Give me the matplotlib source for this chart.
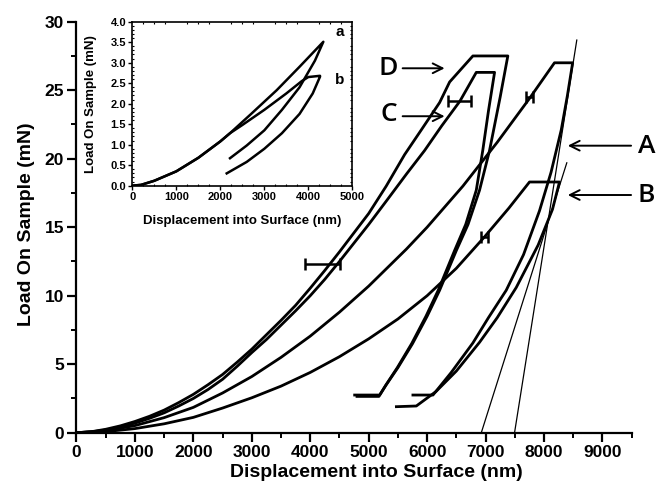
import matplotlib
matplotlib.use('Agg')
import matplotlib.pyplot as plt
from matplotlib.ticker import MultipleLocator

plt.rcParams['font.family'] = ['Liberation Sans', 'DejaVu Sans']
plt.rcParams['font.weight'] = 'bold'

# --- main chart data (nm, mN) ---
# curve A: loading, hold, unloading, drift hold
A_load_x = [0, 500, 1000, 1500, 2000, 2500, 3000, 3500, 4000, 4500, 5000, 5645, 6000, 6612, 7200, 7752, 8179]
A_load_y = [0, 0.14, 0.52, 1.1, 1.85, 2.9, 4.1, 5.5, 7.05, 8.8, 10.7, 13.4, 15.0, 18.0, 21.2, 24.4, 27.0]
A_unload_x = [8490, 8400, 8295, 8120, 7923, 7650, 7354, 7050, 6783, 6413, 6100, 5757]
A_unload_y = [27.0, 24.6, 22.1, 19.0, 16.2, 13.0, 10.4, 8.4, 6.55, 4.4, 2.75, 2.75]

# curve B
B_load_x = [0, 500, 1000, 1500, 2000, 2500, 3000, 3500, 4000, 4500, 5000, 5500, 6000, 6500, 6983, 7400, 7752]
B_load_y = [0, 0.08, 0.3, 0.65, 1.12, 1.8, 2.55, 3.4, 4.4, 5.55, 6.85, 8.3, 10.0, 12.0, 14.3, 16.4, 18.3]
B_unload_x = [8265, 8145, 7900, 7525, 7200, 6897, 6500, 6150, 5815, 5474]
B_unload_y = [18.3, 16.3, 13.7, 10.6, 8.4, 6.6, 4.5, 3.0, 1.95, 1.9]

# curve C
C_load_x = [0, 250, 500, 750, 1000, 1250, 1500, 1750, 2000, 2250, 2500, 2750, 3000, 3250, 3500, 3750,
            4000, 4250, 4500, 4750, 5000, 5300, 5650, 5957, 6250, 6561, 6841]
C_load_y = [0, 0.06, 0.2, 0.42, 0.7, 1.05, 1.45, 1.95, 2.5, 3.15, 3.9, 4.85, 5.85, 6.8, 7.85, 8.9,
            10.0, 11.2, 12.5, 13.85, 15.2, 16.9, 18.9, 20.6, 22.4, 24.2, 26.3]
C_unload_x = [7154, 7050, 6952, 6841, 6660, 6470, 6190, 5980, 5735, 5490, 5290, 5175, 4800]
C_unload_y = [26.3, 23.5, 20.6, 17.7, 15.2, 13.3, 10.4, 8.5, 6.5, 4.75, 3.45, 2.65, 2.65]

# curve D
D_load_x = [0, 250, 500, 750, 1000, 1250, 1500, 1750, 2000, 2250, 2500, 2750, 3000, 3250, 3500, 3750,
            4000, 4250, 4500, 4750, 5000, 5300, 5615, 5900, 6214, 6385, 6783]
D_load_y = [0, 0.07, 0.25, 0.5, 0.82, 1.2, 1.65, 2.2, 2.8, 3.5, 4.25, 5.15, 6.1, 7.15, 8.2, 9.3,
            10.55, 11.85, 13.2, 14.6, 16.0, 18.0, 20.3, 22.1, 24.1, 25.6, 27.5]
D_unload_x = [7381, 7250, 7068, 6897, 6700, 6500, 6214, 6000, 5750, 5500, 5300, 5188, 4760]
D_unload_y = [27.5, 24.5, 20.6, 17.7, 15.2, 13.3, 10.4, 8.5, 6.5, 4.75, 3.5, 2.75, 2.75]

# tangent lines at start of unloading
tanA_x = [7496, 8561]
tanA_y = [0, 28.66]
tanB_x = [6927, 8390]
tanB_y = [0, 19.7]

# error bars (center x, y, half width)
err_x = [4205, 6556, 7752, 6983]
err_y = [12.3, 24.2, 24.5, 14.3]
err_w = [300, 200, 60, 60]

# curve labels with arrows
lab_text = ['D', 'C', 'A', 'B']
lab_x = [5342, 5342, 9752, 9752]
lab_y = [26.6, 23.2, 20.9, 17.3]
arr_tail_x = [5581, 5581, 9490, 9490]
arr_head_x = [6299, 6299, 8407, 8407]
arr_y = [26.6, 23.1, 20.95, 17.35]

# --- inset data ---
a_load_x = [0, 200, 500, 1000, 1500, 2000, 2220, 2700, 3282, 3800, 4341]
a_load_y = [0, 0.02, 0.12, 0.35, 0.68, 1.08, 1.28, 1.75, 2.33, 2.9, 3.51]
a_unload_x = [4341, 4150, 3800, 3400, 3000, 2600, 2220]
a_unload_y = [3.51, 3.05, 2.4, 1.85, 1.35, 0.98, 0.67]
b_load_x = [0, 200, 500, 1000, 1500, 2000, 2220, 2500, 3000, 3500, 3850, 4000, 4266]
b_load_y = [0, 0.02, 0.12, 0.35, 0.68, 1.08, 1.28, 1.48, 1.85, 2.25, 2.55, 2.65, 2.68]
b_unload_x = [4266, 4100, 3800, 3400, 3000, 2600, 2145]
b_unload_y = [2.66, 2.25, 1.75, 1.28, 0.90, 0.58, 0.30]


def loop(lx, ly, ux, uy):
    return lx + ux, ly + uy


fig = plt.figure(figsize=(6.56, 4.92), dpi=100)
ax = fig.add_axes([0.1166, 0.1205, 0.8463, 0.8354])

for lx, ly, ux, uy in [(A_load_x, A_load_y, A_unload_x, A_unload_y),
                       (B_load_x, B_load_y, B_unload_x, B_unload_y),
                       (C_load_x, C_load_y, C_unload_x, C_unload_y),
                       (D_load_x, D_load_y, D_unload_x, D_unload_y)]:
    x, y = loop(lx, ly, ux, uy)
    ax.plot(x, y, color='black', lw=2.0, solid_joinstyle='round')

ax.plot(tanA_x, tanA_y, color='black', lw=0.9, clip_on=False)
ax.plot(tanB_x, tanB_y, color='black', lw=0.9)

ax.errorbar(err_x, err_y, xerr=err_w, fmt='none', ecolor='black',
            elinewidth=1.8, capsize=4.5, capthick=1.8)

for t, tx, ty, x0, x1, yy in zip(lab_text, lab_x, lab_y, arr_tail_x, arr_head_x, arr_y):
    ax.annotate('', xy=(x1, yy), xytext=(x0, yy), annotation_clip=False,
                arrowprops=dict(arrowstyle='->,head_length=0.7,head_width=0.35',
                                lw=1.4, color='black', shrinkA=0, shrinkB=0))
    ax.text(tx, ty, t, fontsize=19, fontweight='semibold', family='Open Sans',
            ha='center', va='center')

ax.set_xlim(0, 9500)
ax.set_ylim(0, 30)
ax.xaxis.set_major_locator(MultipleLocator(1000))
ax.xaxis.set_minor_locator(MultipleLocator(500))
ax.yaxis.set_major_locator(MultipleLocator(5))
ax.yaxis.set_minor_locator(MultipleLocator(2.5))
ax.spines['top'].set_visible(False)
ax.spines['right'].set_visible(False)
for s in ['left', 'bottom']:
    ax.spines[s].set_linewidth(1.6)
ax.tick_params(which='major', direction='out', length=6.5, width=1.6,
               labelsize=12.5, pad=2.5)
ax.tick_params(which='minor', direction='out', length=3.5, width=1.4)
ax.set_xlabel('Displacement into Surface (nm)', fontsize=14, fontweight='bold')
ax.set_ylabel('Load On Sample (mN)', fontsize=14, fontweight='bold')
ax.xaxis.set_label_coords(0.54, -0.075)
ax.yaxis.set_label_coords(-0.075, 0.507)

# --- inset ---
ins = fig.add_axes([0.2017, 0.6226, 0.3354, 0.3333])
x, y = loop(a_load_x, a_load_y, a_unload_x, a_unload_y)
ins.plot(x, y, color='black', lw=1.8)
x, y = loop(b_load_x, b_load_y, b_unload_x, b_unload_y)
ins.plot(x, y, color='black', lw=1.8)
ins.text(4705, 3.76, 'a', fontsize=11, fontweight='bold', ha='center', va='center')
ins.text(4705, 2.58, 'b', fontsize=11, fontweight='bold', ha='center', va='center')
ins.set_xlim(0, 5000)
ins.set_ylim(0, 4.0)
ins.xaxis.set_major_locator(MultipleLocator(1000))
ins.xaxis.set_minor_locator(MultipleLocator(250))
ins.yaxis.set_major_locator(MultipleLocator(0.5))
ins.yaxis.set_minor_locator(MultipleLocator(0.1))
for s in ins.spines.values():
    s.set_linewidth(1.2)
ins.tick_params(which='major', direction='out', length=3, width=1.0,
                labelsize=8, pad=1.5)
ins.tick_params(which='minor', direction='in', length=1.5, width=0.8,
                top=True, right=True)
ins.set_xlabel('Displacement into Surface (nm)', fontsize=9.5, fontweight='bold')
ins.set_ylabel('Load On Sample (mN)', fontsize=9.5, fontweight='bold')
ins.xaxis.set_label_coords(0.5, -0.18)
ins.yaxis.set_label_coords(-0.16, 0.5)

fig.savefig('out.png', dpi=100)
plt.close(fig)
